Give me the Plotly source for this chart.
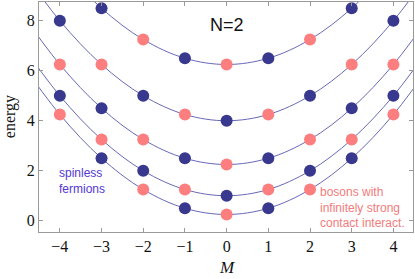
import plotly.graph_objects as go

# curve values (read at integer M, drawn as smooth splines)
curve_M = [-5, -4, -3, -2, -1, 0, 1, 2, 3, 4, 5]
curve_1 = [6.5, 4.25, 2.5, 1.25, 0.5, 0.25, 0.5, 1.25, 2.5, 4.25, 6.5]
curve_2 = [7.25, 5.0, 3.25, 2.0, 1.25, 1.0, 1.25, 2.0, 3.25, 5.0, 7.25]
curve_3 = [8.5, 6.25, 4.5, 3.25, 2.5, 2.25, 2.5, 3.25, 4.5, 6.25, 8.5]
curve_4 = [10.25, 8.0, 6.25, 5.0, 4.25, 4.0, 4.25, 5.0, 6.25, 8.0, 10.25]
curve_5 = [12.5, 10.25, 8.5, 7.25, 6.5, 6.25, 6.5, 7.25, 8.5, 10.25, 12.5]
curves = [curve_1, curve_2, curve_3, curve_4, curve_5]

# spinless fermions (blue)
fermion_M = [-4, -4, -3, -3, -3, -2, -2, -1, -1, -1, 0, 0, 1, 1, 1, 2, 2, 3, 3, 3, 4, 4]
fermion_E = [5, 8, 2.5, 4.5, 8.5, 2, 5, 0.5, 2.5, 6.5, 1, 4, 0.5, 2.5, 6.5, 2, 5, 2.5, 4.5, 8.5, 5, 8]

# bosons with infinitely strong contact interaction (pink)
boson_M = [-4, -4, -3, -3, -2, -2, -2, -1, -1, 0, 0, 0, 1, 1, 2, 2, 2, 3, 3, 4, 4]
boson_E = [4.25, 6.25, 3.25, 6.25, 1.25, 3.25, 7.25, 1.25, 4.25, 0.25, 2.25, 6.25,
           1.25, 4.25, 1.25, 3.25, 7.25, 3.25, 6.25, 4.25, 6.25]

x_ticks = [-4, -3, -2, -1, 0, 1, 2, 3, 4]
x_ticktext = ["\u22124", "\u22123", "\u22122", "\u22121", "0", "1", "2", "3", "4"]
y_ticks = [0, 2, 4, 6, 8]
y_ticktext = ["0", "2", "4", "6", "8"]

BLUE = "#38388f"
PINK = "#fc7e7e"
LINE = "#6868b8"

fig = go.Figure()
for c in curves:
    fig.add_trace(go.Scatter(x=curve_M, y=c, mode="lines",
                             line=dict(color=LINE, width=1, shape="spline"),
                             hoverinfo="skip", showlegend=False))
fig.add_trace(go.Scatter(x=boson_M, y=boson_E, mode="markers",
                         marker=dict(color=PINK, size=12, line=dict(width=0)),
                         showlegend=False))
fig.add_trace(go.Scatter(x=fermion_M, y=fermion_E, mode="markers",
                         marker=dict(color=BLUE, size=12, line=dict(width=0)),
                         showlegend=False))

axis_common = dict(showline=True, linecolor="#9a9a9a", linewidth=1, mirror="ticks",
                   ticks="inside", ticklen=4, tickcolor="#9a9a9a", showgrid=False,
                   zeroline=False,
                   tickfont=dict(family="Liberation Serif", size=16, color="#111"))

fig.update_layout(
    width=415, height=279,
    margin=dict(l=39, r=2, t=2, b=47),
    paper_bgcolor="white", plot_bgcolor="white",
    xaxis=dict(range=[-4.5, 4.47], tickvals=x_ticks, ticktext=x_ticktext, **axis_common),
    yaxis=dict(range=[-0.45, 8.75], tickvals=y_ticks, ticktext=y_ticktext, **axis_common),
    annotations=[
        dict(text="N=2", x=0, y=7.85, xref="x", yref="y", showarrow=False,
             font=dict(family="Liberation Sans", size=18, color="#111")),
        dict(text="spinless<br>fermions", x=-4.07, y=1.6, xref="x", yref="y",
             xanchor="left", yanchor="middle", align="left", showarrow=False,
             font=dict(family="Liberation Sans", size=12, color="#5236d6")),
        dict(text="bosons with<br>infinitely strong<br>contact interact.", x=2.2, y=0.55,
             xref="x", yref="y", xanchor="left", yanchor="middle", align="left",
             showarrow=False,
             font=dict(family="Liberation Sans", size=12, color="#f27c7c")),
        dict(text="energy", x=-0.077, y=0.5, xref="paper", yref="paper",
             textangle=-90, showarrow=False, xanchor="center", yanchor="middle",
             font=dict(family="Liberation Serif", size=16, color="#111")),
        dict(text="<i>M</i>", x=0, y=-0.155, xref="x", yref="paper",
             showarrow=False, xanchor="center", yanchor="middle",
             font=dict(family="Liberation Serif", size=17, color="#111")),
    ],
)

fig.write_html("out.html", config={"displayModeBar": False},
               post_script="document.body.style.margin='0';document.body.style.padding='0';")
